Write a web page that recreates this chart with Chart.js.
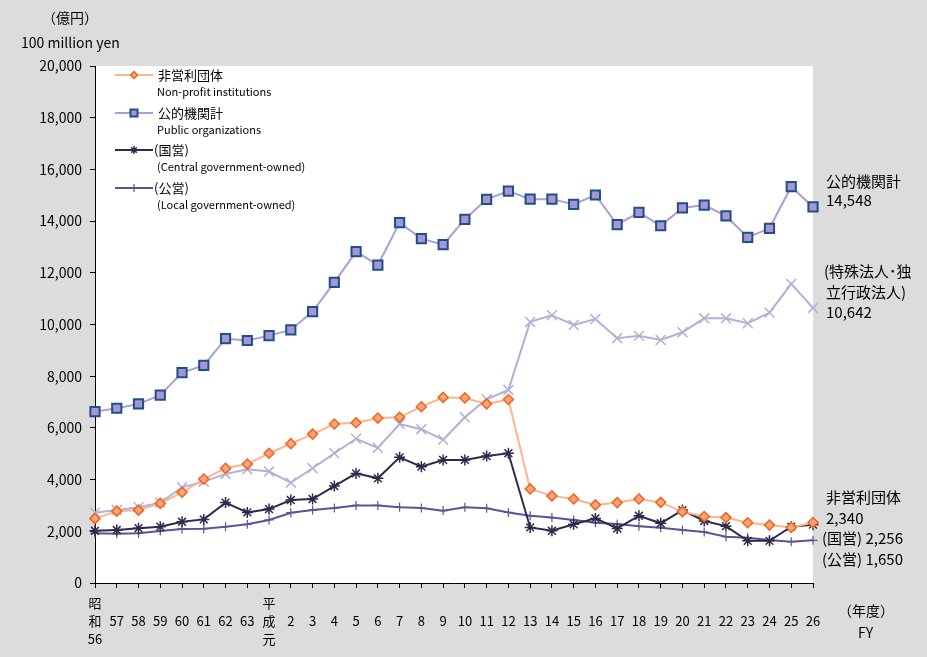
<!DOCTYPE html>
<html lang="ja">
<head>
<meta charset="UTF-8" />
<title>公的機関</title>
<script src="https://cdn.jsdelivr.net/npm/chart.js"></script>
<style>
  body { margin: 0; background: #dcdcdc; }
  #wrap { width: 927px; height: 657px; }
</style>
</head>
<body>
<div id="wrap"><canvas id="grafico" width="927" height="657"></canvas></div>
<script>
// 年度 (昭和56 ～ 平成26)
const years = ['昭和56', '57', '58', '59', '60', '61', '62', '63',
  '平成元', '2', '3', '4', '5', '6', '7', '8', '9',
  '10', '11', '12', '13', '14', '15', '16', '17', '18', '19',
  '20', '21', '22', '23', '24', '25', '26'];

const yTicks = [0, 2000, 4000, 6000, 8000, 10000, 12000, 14000, 16000, 18000, 20000];

// 億円
const nonProfit = [2490, 2780, 2820, 3080, 3510, 4020, 4440, 4600,
  5020, 5390, 5760, 6150, 6200, 6380, 6410, 6820, 7180,
  7160, 6930, 7100, 3640, 3370, 3250, 3020, 3110, 3250, 3120,
  2760, 2570, 2530, 2330, 2240, 2150, 2340];
const publicOrg = [6630, 6760, 6930, 7270, 8140, 8420, 9450, 9380,
  9570, 9790, 10500, 11630, 12820, 12300, 13940, 13320, 13090,
  14070, 14840, 15160, 14850, 14850, 14650, 15010, 13860, 14340, 13820,
  14510, 14620, 14200, 13370, 13720, 15330, 14548];
const specialCorp = [2720, 2820, 2930, 3110, 3700, 3920, 4220, 4400,
  4310, 3880, 4440, 5020, 5580, 5230, 6150, 5950, 5540,
  6410, 7110, 7470, 10100, 10360, 9980, 10210, 9470, 9560, 9400,
  9700, 10240, 10240, 10050, 10460, 11570, 10642];
const central = [2020, 2050, 2120, 2180, 2370, 2460, 3110, 2730,
  2860, 3210, 3250, 3750, 4240, 4050, 4860, 4500, 4760,
  4760, 4910, 5020, 2150, 2020, 2270, 2500, 2110, 2600, 2310,
  2820, 2400, 2200, 1630, 1630, 2180, 2256];
const local = [1920, 1910, 1920, 2010, 2090, 2100, 2180, 2270,
  2440, 2720, 2820, 2900, 3000, 3000, 2930, 2900, 2800,
  2930, 2890, 2730, 2600, 2530, 2440, 2330, 2280, 2200, 2140,
  2050, 1970, 1790, 1750, 1660, 1600, 1650];

const FONT = '"Noto Sans CJK JP", "Noto Sans", sans-serif';

const series = [
  { label: '非営利団体', sub: 'Non-profit institutions', data: nonProfit,
    line: '#ffb48c', fill: '#ffa478', edge: '#ee6420', style: 'rectRot', r: 5, lr: 3.5, bw: 1.5 },
  { label: '公的機関計', sub: 'Public organizations', data: publicOrg,
    line: '#ab9dd6', fill: '#a697d4', edge: '#1d4f88', style: 'rect', r: 6.5, lr: 5, bw: 2 },
  { label: '(国営)', sub: '(Central government-owned)', data: central,
    line: '#2e2a4c', fill: '#2e2a4c', edge: '#2e2a4c', style: 'star', r: 5.5, lr: 4, bw: 1.5 },
  { label: '(公営)', sub: '(Local government-owned)', data: local,
    line: '#5c5396', fill: '#5c5396', edge: '#5c5396', style: 'cross', r: 4.5, lr: 4, bw: 1.2 },
  { label: '(特殊法人・独立行政法人)', sub: null, data: specialCorp,
    line: '#b4afd6', fill: '#b4afd6', edge: '#b4afd6', style: 'crossRot', r: 7, lr: 5, bw: 1.5 }
];

const datasets = series.map(s => ({
  label: s.label,
  data: s.data,
  borderColor: s.line,
  borderWidth: 2,
  pointStyle: s.style,
  pointRadius: s.r,
  pointBackgroundColor: s.fill,
  pointBorderColor: s.edge,
  pointBorderWidth: s.bw,
  tension: 0
}));

// 描画領域を白く塗る
const plotBg = {
  id: 'plotBg',
  beforeDraw(chart) {
    const { ctx, chartArea: a } = chart;
    ctx.save();
    ctx.fillStyle = '#ffffff';
    ctx.fillRect(a.left, a.top, a.right - a.left, a.bottom - a.top);
    ctx.restore();
  }
};

// 凡例・注記・単位
const texts = {
  id: 'texts',
  afterDraw(chart) {
    const ctx = chart.ctx;
    ctx.save();
    ctx.fillStyle = '#000';
    ctx.textBaseline = 'middle';
    ctx.textAlign = 'left';

    ctx.font = '14px ' + FONT;
    ctx.fillText('（億円）', 42, 18);
    ctx.font = '14px ' + FONT;
    ctx.fillText('100 million yen', 21, 43);

    ctx.font = '14px ' + FONT;
    ctx.fillText('（年度）', 838, 611);
    ctx.fillText('FY', 858, 633);

    // legend
    const rows = [75, 113, 150, 188];
    for (let i = 0; i < 4; i++) {
      const s = series[i];
      const y = rows[i];
      ctx.strokeStyle = s.line;
      ctx.lineWidth = 2;
      ctx.beginPath();
      ctx.moveTo(115, y);
      ctx.lineTo(153, y);
      ctx.stroke();
      ctx.fillStyle = s.fill;
      ctx.strokeStyle = s.edge;
      ctx.lineWidth = s.bw;
      Chart.helpers.drawPoint(ctx, { pointStyle: s.style, radius: s.lr, rotation: 0, borderWidth: s.bw }, 134, y);
      ctx.fillStyle = '#000';
      ctx.font = '13px ' + FONT;
      ctx.fillText(s.label, i < 2 ? 158 : 154, y);
      ctx.font = '11px ' + FONT;
      ctx.fillText(s.sub, 157, y + 17);
    }

    // right-hand notes
    ctx.font = '15px ' + FONT;
    ctx.fillText('公的機関計', 826, 181);
    ctx.fillText('14,548', 826, 200);
    ctx.fillText('(特殊法人･独', 824, 271);
    ctx.fillText('立行政法人)', 826, 292);
    ctx.fillText('10,642', 826, 312);
    ctx.fillText('非営利団体', 826, 497);
    ctx.fillText('2,340', 826, 518);
    ctx.fillText('(国営) 2,256', 822, 538);
    ctx.fillText('(公営) 1,650', 822, 559);
    ctx.restore();
  }
};

new Chart(document.getElementById('grafico'), {
  type: 'line',
  data: { labels: years, datasets: datasets },
  options: {
    responsive: false,
    animation: false,
    layout: { padding: { left: 0, top: 66, right: 114, bottom: 0 } },
    plugins: {
      legend: { display: false },
      tooltip: { enabled: false }
    },
    scales: {
      x: {
        offset: false,
        afterFit(scale) { scale.height = 74; },
        grid: { drawOnChartArea: false, tickLength: 5, color: '#000' },
        border: { display: true, color: '#000', width: 1 },
        ticks: {
          autoSkip: false,
          maxRotation: 0,
          padding: 6,
          color: '#000',
          font: { family: FONT, size: 13, lineHeight: 1.4 },
          callback(v, i) {
            const t = years[i];
            if (t.length === 4 && t.startsWith('昭')) return ['昭', '和', t.slice(2)];
            if (t.startsWith('平成')) return ['平', '成', '元'];
            return ['', t, ''];
          }
        }
      },
      y: {
        min: 0,
        max: 20000,
        afterFit(scale) { scale.width = 95; },
        afterBuildTicks(scale) { scale.ticks = yTicks.map(v => ({ value: v })); },
        grid: { drawOnChartArea: false, tickLength: 5, color: '#000' },
        border: { display: true, color: '#000', width: 1 },
        ticks: {
          padding: 8,
          color: '#000',
          font: { family: FONT, size: 14 },
          callback: v => v.toLocaleString('en-US')
        }
      }
    }
  },
  plugins: [plotBg, texts]
});
</script>
</body>
</html>
